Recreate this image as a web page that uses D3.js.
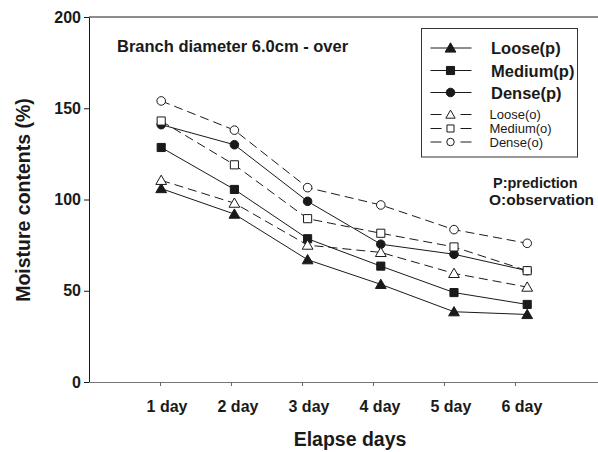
<!DOCTYPE html>
<html>
<head>
<meta charset="utf-8">
<script src="https://cdn.jsdelivr.net/npm/d3@7"></script>
<style>
  html, body { margin: 0; padding: 0; background: #fff; }
  svg { display: block; font-family: "Liberation Sans", Arial, sans-serif; }
</style>
</head>
<body>
<svg id="chart" width="598" height="452"></svg>
<script>
// Elapsed days and moisture contents (%) per packing density
const days = [1, 2, 3, 4, 5, 6];
const dayLabels = ["1 day", "2 day", "3 day", "4 day", "5 day", "6 day"];
const yTicks = [0, 50, 100, 150, 200];

const loosePred  = [106, 92, 67, 53.5, 38.5, 37];
const mediumPred = [128.5, 105.5, 78.5, 63.5, 49, 42.5];
const densePred  = [141, 130, 99, 75.5, 70, 61];
const looseObs   = [110.5, 98, 75, 71, 59.5, 52];
const mediumObs  = [143, 119, 89.5, 81.5, 74, 61];
const denseObs   = [154, 138, 106.5, 97, 83.5, 76];

const seriesNames = ["Loose(p)", "Medium(p)", "Dense(p)", "Loose(o)", "Medium(o)", "Dense(o)"];

const series = [
  { name: seriesNames[0], values: loosePred,  shape: d3.symbolTriangle, filled: true,  dashed: false },
  { name: seriesNames[1], values: mediumPred, shape: d3.symbolSquare,   filled: true,  dashed: false },
  { name: seriesNames[2], values: densePred,  shape: d3.symbolCircle,   filled: true,  dashed: false },
  { name: seriesNames[3], values: looseObs,   shape: d3.symbolTriangle, filled: false, dashed: true },
  { name: seriesNames[4], values: mediumObs,  shape: d3.symbolSquare,   filled: false, dashed: true },
  { name: seriesNames[5], values: denseObs,   shape: d3.symbolCircle,   filled: false, dashed: true }
];

const svg = d3.select("#chart");
const ink = "#1a1a1a";
const plotLeft = 89, plotRight = 598, plotTop = 17, plotBottom = 382;

const y = d3.scaleLinear().domain([0, 200]).range([plotBottom, plotTop]);
// tick positions of the category axis
const xAxisScale = d3.scaleLinear().domain([0, 7.17]).range([plotLeft, plotRight]);
// positions of the plotted days
const x = d3.scaleLinear().domain([0, 7]).range([88, 600.4]);

// top frame line
svg.append("line")
  .attr("x1", plotLeft).attr("x2", plotRight).attr("y1", plotTop).attr("y2", plotTop)
  .attr("stroke", ink).attr("stroke-width", 1);

// y axis
const yAxis = svg.append("g")
  .attr("transform", `translate(${plotLeft},0)`)
  .call(d3.axisLeft(y).tickValues(yTicks).tickSize(5).tickPadding(3).tickSizeOuter(0));
yAxis.select(".domain").attr("stroke", ink);
yAxis.selectAll(".tick line").attr("stroke", ink);
yAxis.selectAll(".tick text")
  .attr("fill", ink).attr("font-size", 16).attr("font-weight", "bold")
  .attr("font-family", "Liberation Sans, Arial, sans-serif");

// x axis
const xAxis = svg.append("g")
  .attr("transform", `translate(0,${plotBottom})`)
  .call(d3.axisBottom(xAxisScale).tickValues(days)
    .tickFormat((d, i) => dayLabels[i]).tickSize(4).tickPadding(15).tickSizeOuter(0));
xAxis.select(".domain").attr("stroke", "#777");
xAxis.selectAll(".tick line").attr("stroke", "#666");
xAxis.selectAll(".tick text")
  .attr("fill", ink).attr("font-size", 16).attr("font-weight", "bold")
  .attr("dx", 6.5)
  .attr("font-family", "Liberation Sans, Arial, sans-serif");

// axis titles
svg.append("text")
  .attr("x", 350).attr("y", 446)
  .attr("text-anchor", "middle")
  .attr("font-size", 19.5).attr("font-weight", "bold").attr("fill", ink)
  .text("Elapse days");

svg.append("text")
  .attr("transform", "translate(29.5,200) rotate(-90)")
  .attr("text-anchor", "middle")
  .attr("font-size", 19.5).attr("font-weight", "bold").attr("fill", ink)
  .text("Moisture contents (%)");

// panel title
svg.append("text")
  .attr("x", 117).attr("y", 51.5)
  .attr("font-size", 16.5).attr("font-weight", "bold").attr("fill", ink)
  .text("Branch diameter 6.0cm - over");

const line = d3.line().x((d, i) => x(days[i])).y(d => y(d));

const symbolSize = s => s === d3.symbolCircle ? 58 : (s === d3.symbolSquare ? 66 : 50);

// predicted series first, observed on top
const plot = svg.append("g");
series.forEach(s => {
  plot.append("path")
    .datum(s.values)
    .attr("d", line)
    .attr("fill", "none")
    .attr("stroke", ink)
    .attr("stroke-width", 1)
    .attr("stroke-dasharray", s.dashed ? "9,5" : null);
});
series.forEach(s => {
  plot.selectAll(null)
    .data(s.values)
    .enter().append("path")
    .attr("transform", (d, i) => `translate(${x(days[i])},${y(d) + (s.shape === d3.symbolTriangle ? 1 : 0)})`)
    .attr("d", d3.symbol().type(s.shape).size(symbolSize(s.shape)))
    .attr("fill", s.filled ? ink : "#fff")
    .attr("stroke", ink)
    .attr("stroke-width", 1);
});

// legend
const legend = svg.append("g");
legend.append("rect")
  .attr("x", 421.5).attr("y", 28.5).attr("width", 156).attr("height", 128.5)
  .attr("fill", "#fff").attr("stroke", "#333").attr("stroke-width", 1);

const rowY = [48, 70.5, 92.5, 114.5, 128.5, 142];
series.forEach((s, i) => {
  const g = legend.append("g").attr("transform", `translate(0,${rowY[i]})`);
  g.append("line")
    .attr("x1", 430.5).attr("x2", 471.5).attr("y1", 0).attr("y2", 0)
    .attr("stroke", ink).attr("stroke-width", 1)
    .attr("stroke-dasharray", s.dashed ? "11,19,11" : null);
  g.append("path")
    .attr("transform", `translate(450.5,${s.shape === d3.symbolTriangle ? 1 : 0})`)
    .attr("d", d3.symbol().type(s.shape).size(s.filled ? symbolSize(s.shape) : symbolSize(s.shape) * 0.75))
    .attr("fill", s.filled ? ink : "#fff")
    .attr("stroke", ink).attr("stroke-width", 1);
  g.append("text")
    .attr("x", s.filled ? 491 : 489.5)
    .attr("y", s.filled ? 6 : 4.5)
    .attr("font-size", s.filled ? 16.5 : 13)
    .attr("font-weight", s.filled ? "bold" : "normal")
    .attr("fill", ink)
    .text(s.name);
});

// notes on the series suffixes
svg.append("text")
  .attr("x", 493).attr("y", 188)
  .attr("font-size", 14.5).attr("font-weight", "bold").attr("fill", ink)
  .text("P:prediction");
svg.append("text")
  .attr("x", 489).attr("y", 205)
  .attr("font-size", 15.5).attr("font-weight", "bold").attr("fill", ink)
  .text("O:observation");
</script>
</body>
</html>
